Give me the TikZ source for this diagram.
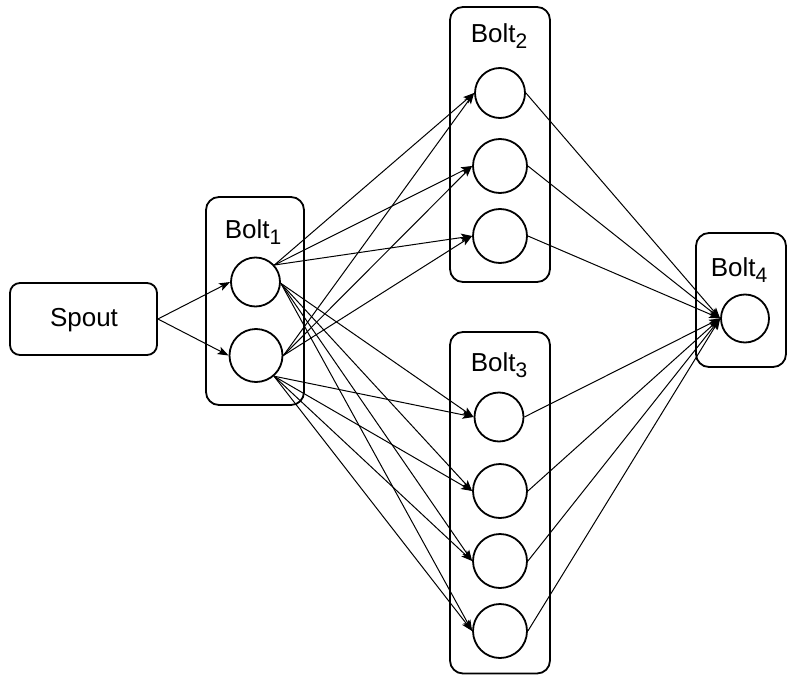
\documentclass[tikz,border=0pt]{standalone}
\usepackage{fontspec}
\setmainfont{Liberation Sans}
\usetikzlibrary{arrows.meta}
\newcommand\subn[1]{\raisebox{-6bp}{\fontsize{21bp}{21bp}\selectfont #1}}
\tikzset{
  box/.style={draw, line width=1.8bp, rounded corners=13bp},
  circ/.style={draw, circle, line width=1.8bp, inner sep=0pt},
  lbl/.style={font=\fontsize{26bp}{29bp}\selectfont, inner sep=0pt},
  conn/.style={line width=1bp, -{Stealth[length=11bp,width=8bp,inset=2.5bp]}},
}
\begin{document}
\begin{tikzpicture}[x=1bp,y=-1bp]
\useasboundingbox (0,0) rectangle (787,675);
% containers
\node[box, minimum width=147bp, minimum height=72bp, rounded corners=10bp] (spout) at (83.5,319) {};
\node[lbl] (spoutlbl) at (84,320) {Spout};
\draw[box] (206,197) rectangle (304,405);
\draw[box] (450,7) rectangle (550,282);
\draw[box] (450,332) rectangle (550,673.5);
\draw[box] (696,233) rectangle (786,367);
% labels
\node[lbl, anchor=base] (l1) at (253,238) {Bolt\subn{1}};
\node[lbl, anchor=base] (l2) at (499,43) {Bolt\subn{2}};
\node[lbl, anchor=base] (l3) at (499,371) {Bolt\subn{3}};
\node[lbl, anchor=base] (l4) at (739,276) {Bolt\subn{4}};
% circles
\node[circ, minimum size=49bp] (a1) at (255.5,282) {};
\node[circ, minimum size=53bp] (a2) at (256,355.5) {};
\node[circ, minimum size=50bp] (b1) at (500,93) {};
\node[circ, minimum size=54bp] (b2) at (500,166) {};
\node[circ, minimum size=54bp] (b3) at (500,236) {};
\node[circ, minimum size=49bp] (c1) at (499,417) {};
\node[circ, minimum size=54bp] (c2) at (500,491) {};
\node[circ, minimum size=54bp] (c3) at (500,561) {};
\node[circ, minimum size=54bp] (c4) at (500,631) {};
\node[circ, minimum size=48bp] (d1) at (745,318.5) {};
% connectors
\draw[conn] (spout.east) -- (a1.west);
\draw[conn] (spout.east) -- (a2.west);
\foreach \t in {b1,b2,b3} {
  \draw[conn] (a1.42) -- (\t.west);
  \draw[conn] (a2.east) -- (\t.west);
}
\foreach \t in {c1,c2,c3,c4} {
  \draw[conn] (a1.-3) -- (\t.west);
  \draw[conn] (a2.-49) -- (\t.west);
}
\foreach \s in {b1,b2,b3,c1,c2,c3,c4} {
  \draw[conn] (\s.east) -- (d1.west);
}
\end{tikzpicture}
\end{document}
